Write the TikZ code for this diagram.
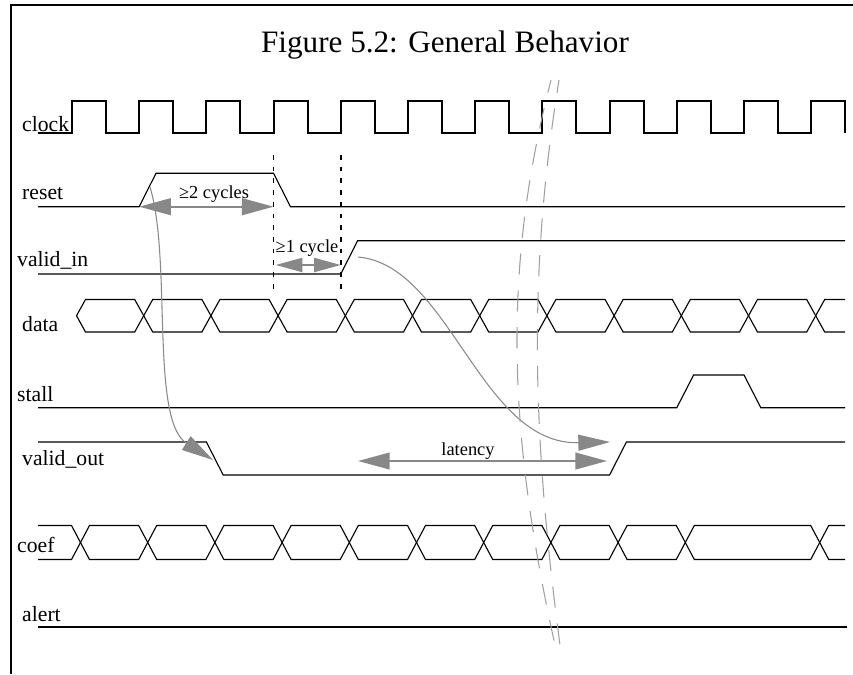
\documentclass[tikz,border=0pt]{standalone}
\usepackage{fontspec}
\setmainfont{Liberation Serif}
\usetikzlibrary{arrows.meta}
\definecolor{arrowgray}{RGB}{136,136,136}
\definecolor{breakgray}{RGB}{160,160,160}
\begin{document}
\begin{tikzpicture}[x=0.03cm, y=-0.03cm,
  sig/.style={line width=0.95pt},
  heavy/.style={line width=1.7pt},
  siglabel/.style={anchor=base west, inner sep=0pt, font=\fontsize{18.5}{20}\selectfont},
  spanlabel/.style={anchor=base, inner sep=0pt, font=\fontsize{15.7}{17}\selectfont},
  spanarrow/.style={arrowgray, line width=1.7pt, {Triangle[length=0.95cm,width=0.5cm]}-{Triangle[length=0.95cm,width=0.5cm]}},
  causearrow/.style={arrowgray, line width=0.9pt, -{Triangle[length=0.95cm,width=0.48cm]}},
  edgeline/.style={line width=1.5pt, dash pattern=on 4pt off 6pt},
  breakline/.style={breakgray, line width=0.9pt, dash pattern=on 18pt off 13.5pt, dash phase=7pt}]
  \useasboundingbox (0,0) rectangle (853,674);
  \draw[line width=2pt] (11,674) -- (11,5) -- (853,5);
  \node[anchor=base, inner sep=0pt, font=\fontsize{26.6}{30}\selectfont] (title) at (445,53) {Figure 5.2: General Behavior};

  \node[siglabel] (clock) at (22,131.5) {clock};
  \node[siglabel] (reset) at (22,199.3) {reset};
  \node[siglabel] (validin) at (17,266.7) {valid\_in};
  \node[siglabel] (data) at (22,331) {data};
  \node[siglabel] (stall) at (17,401.7) {stall};
  \node[siglabel] (validout) at (22,465) {valid\_out};
  \node[siglabel] (coef) at (17,552.3) {coef};
  \node[siglabel] (alert) at (22,621.7) {alert};

  \draw[heavy] (38,133.3) \foreach \k in {0,...,11} { -- ({72+67.2*\k},133.3) -- ++(0,-32.6) -- ++(34,0) -- ++(0,32.6) };
  \draw[sig] (38,206.7) -- (139.2,206.7) -- (156,173.3) -- (273.6,173.3) -- (290.4,206.7) -- (845,206.7);
  \draw[sig] (38,274) -- (340.8,274) -- (357.6,240.7) -- (845,240.7);
  \foreach \k in {0,...,10} {
    \pgfmathsetmacro{\xa}{76.5+67.2*\k}
    \pgfmathsetmacro{\xb}{\xa+67.2}
    \draw[sig] (\xa,315.7) -- (\xa+9,299.5) -- (\xb-9,299.5) -- (\xb,315.7) -- (\xb-9,332) -- (\xa+9,332) -- cycle;
  }
  \draw[sig] (845,299.5) -- (824.7,299.5) -- (815.7,315.7) -- (824.7,332) -- (845,332);
  \draw[sig] (38,407.7) -- (676.8,407.7) -- (693.6,375) -- (744,375) -- (760.8,407.7) -- (845,407.7);
  \draw[sig] (38,442) -- (206.4,442) -- (223.2,475) -- (609.6,475) -- (626.4,442) -- (845,442);
  \draw[sig] (38,525.5) -- (71.5,525.5) -- (80.5,542.5) -- (71.5,559.5) -- (38,559.5);
  \foreach \i/\j in {0/1,1/2,2/3,3/4,4/5,5/6,6/7,7/8,8/9,9/11} {
    \pgfmathsetmacro{\xa}{80.5+67.2*\i}
    \pgfmathsetmacro{\xb}{80.5+67.2*\j}
    \draw[sig] (\xa,542.5) -- (\xa+9,525.5) -- (\xb-9,525.5) -- (\xb,542.5) -- (\xb-9,559.5) -- (\xa+9,559.5) -- cycle;
  }
  \draw[sig] (845,525.5) -- (828.7,525.5) -- (819.7,542.5) -- (828.7,559.5) -- (845,559.5);
  \draw[heavy] (38,626.7) -- (847,626.7);

  \draw[edgeline] (273.6,155) -- (273.6,292);
  \draw[edgeline] (340.8,155) -- (340.8,292);

  \coordinate (twoA) at (139.2,206.7);
  \coordinate (twoB) at (273.6,206.7);
  \coordinate (oneA) at (275.6,265);
  \coordinate (oneB) at (340.8,265);
  \coordinate (latA) at (358,461);
  \coordinate (latB) at (607,461);
  \draw[spanarrow] (twoA) -- (twoB);
  \draw[spanarrow, {Triangle[length=0.8cm,width=0.42cm]}-{Triangle[length=0.8cm,width=0.42cm]}] (oneA) -- (oneB);
  \draw[spanarrow] (latA) -- (latB);
  \node[spanlabel] (twocycles) at (214,198.5) {≥2 cycles};
  \node[spanlabel] (onecycle) at (307,252.7) {≥1 cycle};
  \node[spanlabel] (latency) at (468,455) {latency};

  \coordinate (rstrise) at (150,187);
  \coordinate (voutfall) at (213,460);
  \coordinate (vinrise) at (358,257);
  \coordinate (voutrise) at (610,442);
  \draw[causearrow] (rstrise) .. controls (172,260) and (150,420) .. (voutfall);
  \draw[causearrow] (vinrise) .. controls (450,265) and (480,445) .. (voutrise);

  \draw[breakline] (551,80) .. controls (505,260) and (505,420) .. (555,645);
  \draw[breakline] (559,80) .. controls (530,260) and (530,420) .. (560,645);
\end{tikzpicture}
\end{document}
